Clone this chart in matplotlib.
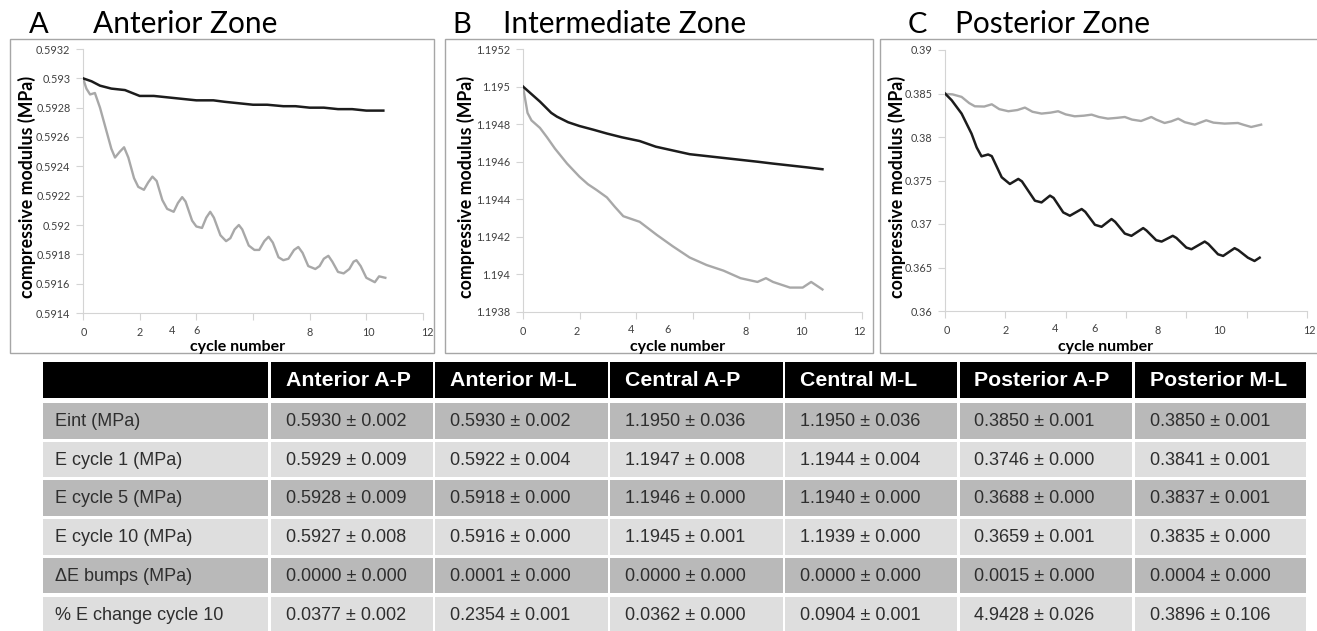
import matplotlib
matplotlib.use("Agg")
import matplotlib.pyplot as plt
from matplotlib.patches import Rectangle
from matplotlib.transforms import ScaledTranslation, blended_transform_factory

plt.rcParams["font.family"] = ["Lato", "DejaVu Sans"]

W, H = 1317, 631
INK = "#1c1c1c"; GRAYLINE = "#a8a8a8"; FRAME = "#a6a6a6"; SPINE = "#d4d4d4"
TICK = "#404040"; DARK_ROW = "#b9b9b9"; LIGHT_ROW = "#dedede"; CELL_INK = "#2e2e2e"

# ---- data ----
XTICKS = [0, 2, 4, 6, 8, 10, 12]

A_YTICKS = [0.5914, 0.5916, 0.5918, 0.5920, 0.5922, 0.5924, 0.5926, 0.5928, 0.5930, 0.5932]
A_black_x = [0, 0.3, 0.6, 1.0, 1.48, 2.0, 2.5, 3.0, 3.5, 4.0, 4.6, 5.0, 5.5, 6.0, 6.5,
             7.07, 7.5, 8.0, 8.5, 9.0, 9.5, 10.0, 10.6]
A_black_y = [0.59300, 0.59298, 0.59295, 0.59293, 0.59292, 0.59288, 0.59288, 0.59287,
             0.59286, 0.59285, 0.59285, 0.59284, 0.59283, 0.59282, 0.59282, 0.59281,
             0.59281, 0.59280, 0.59280, 0.59279, 0.59279, 0.59278, 0.59278]
A_gray_x = [0, 0.12, 0.25, 0.42, 0.6, 0.8, 1.0, 1.13, 1.3, 1.45, 1.6, 1.8, 1.95, 2.15,
            2.3, 2.45, 2.6, 2.8, 2.97, 3.2, 3.35, 3.5, 3.62, 3.85, 4.0, 4.2, 4.35, 4.49,
            4.62, 4.85, 5.05, 5.2, 5.35, 5.5, 5.62, 5.85, 6.05, 6.22, 6.4, 6.55, 6.7,
            6.9, 7.07, 7.25, 7.45, 7.6, 7.75, 7.95, 8.2, 8.35, 8.5, 8.66, 8.8, 9.0, 9.2,
            9.4, 9.55, 9.65, 9.8, 10.0, 10.3, 10.45, 10.67]
A_gray_y = [0.59300, 0.59293, 0.59289, 0.59290, 0.59280, 0.59266, 0.59252, 0.59246,
            0.59250, 0.59253, 0.59246, 0.59232, 0.59226, 0.59224, 0.59229, 0.59233,
            0.59230, 0.59217, 0.59211, 0.59209, 0.59215, 0.59219, 0.59216, 0.59203,
            0.59199, 0.59198, 0.59205, 0.59209, 0.59205, 0.59193, 0.59189, 0.59191,
            0.59197, 0.59200, 0.59197, 0.59186, 0.59183, 0.59183, 0.59189, 0.59192,
            0.59188, 0.59178, 0.59176, 0.59177, 0.59183, 0.59185, 0.59181, 0.59172,
            0.59170, 0.59172, 0.59177, 0.59179, 0.59175, 0.59168, 0.59167, 0.59170,
            0.59175, 0.59176, 0.59172, 0.59164, 0.59161, 0.59165, 0.59164]

B_YTICKS = [1.1938, 1.1940, 1.1942, 1.1944, 1.1946, 1.1948, 1.1950, 1.1952]
B_black_x = [0, 0.15, 0.3, 0.45, 0.6, 0.8, 1.0, 1.2, 1.6, 2.0, 2.5, 2.97, 3.5, 4.13,
             4.7, 5.3, 5.9, 6.5, 7.1, 7.7, 8.3, 8.85, 9.45, 10.05, 10.6]
B_black_y = [1.19500, 1.19498, 1.19496, 1.19494, 1.19492, 1.19489, 1.19486, 1.19484,
             1.19481, 1.19479, 1.19477, 1.19475, 1.19473, 1.19471, 1.19468, 1.19466,
             1.19464, 1.19463, 1.19462, 1.19461, 1.19460, 1.19459, 1.19458, 1.19457,
             1.19456]
B_gray_x = [0, 0.08, 0.16, 0.3, 0.6, 0.85, 1.13, 1.56, 2.0, 2.3, 2.6, 2.97, 3.25, 3.55,
            4.13, 4.74, 5.3, 5.9, 6.5, 7.1, 7.7, 8.3, 8.6, 8.85, 9.45, 9.9, 10.2, 10.6]
B_gray_y = [1.19500, 1.19493, 1.19486, 1.19482, 1.19478, 1.19473, 1.19467, 1.19459,
            1.19452, 1.19448, 1.19445, 1.19441, 1.19436, 1.19431, 1.19428, 1.19421,
            1.19415, 1.19409, 1.19405, 1.19402, 1.19398, 1.19396, 1.19398, 1.19396,
            1.19393, 1.19393, 1.19396, 1.19392]

C_YTICKS = [0.36, 0.365, 0.37, 0.375, 0.38, 0.385, 0.39]
C_black_x = [0, 0.22, 0.55, 0.88, 1.05, 1.21, 1.43, 1.55, 1.88, 2.15, 2.43, 2.55, 2.98,
             3.2, 3.48, 3.6, 3.92, 4.14, 4.53, 4.65, 4.97, 5.19, 5.52, 5.64, 5.96, 6.18,
             6.57, 6.68, 7.0, 7.18, 7.55, 7.67, 8.0, 8.17, 8.61, 8.73, 9.05, 9.22, 9.6,
             9.72, 10.04, 10.26, 10.43]
C_black_y = [0.38500, 0.38423, 0.38269, 0.38038, 0.37880, 0.37778, 0.37799, 0.37780,
             0.37537, 0.37460, 0.37518, 0.37490, 0.37268, 0.37248, 0.37326, 0.37300,
             0.37133, 0.37095, 0.37172, 0.37140, 0.36991, 0.36968, 0.37057, 0.37025,
             0.36890, 0.36864, 0.36953, 0.36925, 0.36814, 0.36798, 0.36864, 0.36840,
             0.36729, 0.36710, 0.36798, 0.36770, 0.36652, 0.36633, 0.36722, 0.36700,
             0.36613, 0.36575, 0.36613]
C_gray_x = [0, 0.25, 0.55, 0.8, 0.99, 1.3, 1.55, 1.8, 2.1, 2.4, 2.65, 2.9, 3.2, 3.5,
            3.75, 4.0, 4.3, 4.6, 4.86, 5.1, 5.4, 5.7, 5.96, 6.2, 6.5, 6.84, 7.0, 7.28,
            7.5, 7.73, 7.95, 8.28, 8.66, 8.9, 9.27, 9.71, 9.9, 10.15, 10.48]
C_gray_y = [0.38496, 0.38490, 0.38461, 0.38390, 0.38353, 0.38350, 0.38376, 0.38320,
            0.38296, 0.38310, 0.38338, 0.38290, 0.38269, 0.38280, 0.38296, 0.38260,
            0.38238, 0.38245, 0.38257, 0.38230, 0.38211, 0.38220, 0.38230, 0.38200,
            0.38184, 0.38230, 0.38200, 0.38161, 0.38180, 0.38211, 0.38170, 0.38142,
            0.38192, 0.38165, 0.38154, 0.38161, 0.38140, 0.38115, 0.38142]

# ---- table ----
COLUMNS = ["", "Anterior A-P", "Anterior M-L", "Central A-P", "Central M-L",
           "Posterior A-P", "Posterior M-L"]
ROWS = ["Eint (MPa)", "E cycle 1 (MPa)", "E cycle 5 (MPa)", "E cycle 10 (MPa)",
        "\u0394E bumps (MPa)", "% E change cycle 10"]
CELLS = [
    ["0.5930 ± 0.002", "0.5930 ± 0.002", "1.1950 ± 0.036", "1.1950 ± 0.036", "0.3850 ± 0.001", "0.3850 ± 0.001"],
    ["0.5929 ± 0.009", "0.5922 ± 0.004", "1.1947 ± 0.008", "1.1944 ± 0.004", "0.3746 ± 0.000", "0.3841 ± 0.001"],
    ["0.5928 ± 0.009", "0.5918 ± 0.000", "1.1946 ± 0.000", "1.1940 ± 0.000", "0.3688 ± 0.000", "0.3837 ± 0.001"],
    ["0.5927 ± 0.008", "0.5916 ± 0.000", "1.1945 ± 0.001", "1.1939 ± 0.000", "0.3659 ± 0.001", "0.3835 ± 0.000"],
    ["0.0000 ± 0.000", "0.0001 ± 0.000", "0.0000 ± 0.000", "0.0000 ± 0.000", "0.0015 ± 0.000", "0.0004 ± 0.000"],
    ["0.0377 ± 0.002", "0.2354 ± 0.001", "0.0362 ± 0.000", "0.0904 ± 0.001", "4.9428 ± 0.026", "0.3896 ± 0.106"],
]

fig = plt.figure(figsize=(W / 100, H / 100), dpi=100)
fig.patch.set_facecolor("white")
bg = fig.add_axes([0, 0, 1, 1], zorder=0)
bg.set_xlim(0, W); bg.set_ylim(H, 0); bg.axis("off")


def px_axes(l, t, r, b):
    return fig.add_axes([l / W, 1 - b / H, (r - l) / W, (b - t) / H], zorder=2)


def fmt(v):
    return f"{v:.4f}".rstrip("0").rstrip(".")


panels = [
    # letter, title, letter x, title x, frame (l,t,r,b), axes (l,t,r,b), ylabel x,
    # cycle-label x, per-label x offsets (px)
    ("A", "Anterior Zone", 29, 93, (10, 39, 434, 353), (83, 49, 423, 313), 27, 238,
     [1, 0, -24, -56, 0, 2, 4], A_YTICKS, (A_black_x, A_black_y), (A_gray_x, A_gray_y)),
    ("B", "Intermediate Zone", 452, 503, (445, 39, 873, 353), (523, 49, 862, 312), 466, 678,
     [0, -3, -5, -25, -3, -4, -3], B_YTICKS, (B_black_x, B_black_y), (B_gray_x, B_gray_y)),
    ("C", "Posterior Zone", 908, 955, (880, 39, 1330, 353), (945, 50, 1307, 311), 897, 1106,
     [2, 0, -11, -31, -29, -27, 2], C_YTICKS, (C_black_x, C_black_y), (C_gray_x, C_gray_y)),
]

for (letter, title, lx, tx, frame, box, ylx, cx, offs, yticks, blk, gry) in panels:
    fl, ft, fr, fb = frame
    bg.add_patch(Rectangle((fl, ft), fr - fl, fb - ft, fill=False, ec=FRAME, lw=1.0))
    bg.text(lx, 33, letter, fontsize=21, color="black", va="baseline", ha="left")
    bg.text(tx, 33, title, fontsize=21.5, color="black", va="baseline", ha="left")
    bg.text(ylx, 187, "compressive modulus (MPa)", rotation=90, fontsize=12.8,
            fontweight="bold", color="black", ha="center", va="center", zorder=5)
    bg.text(cx, 347, "cycle number", fontsize=11.5, fontweight="bold",
            color="black", ha="center", va="center")

    ax = px_axes(*box)
    ax.patch.set_alpha(0)
    ax.plot(gry[0], gry[1], color=GRAYLINE, lw=1.7, solid_joinstyle="round", zorder=3)
    ax.plot(blk[0], blk[1], color=INK, lw=1.8, solid_joinstyle="round", zorder=4)
    ax.set_xlim(XTICKS[0], XTICKS[-1])
    ax.set_ylim(yticks[0], yticks[-1])
    ax.set_yticks(yticks)
    ax.set_yticklabels([fmt(v) for v in yticks])
    ax.set_xticks(XTICKS)
    ax.set_xticklabels([])
    ax.tick_params(axis="both", length=5, width=0.8, color=SPINE, labelsize=7.8,
                   labelcolor=TICK, pad=4)
    for sp in ("top", "right"):
        ax.spines[sp].set_visible(False)
    for sp in ("left", "bottom"):
        ax.spines[sp].set_color(SPINE)
        ax.spines[sp].set_linewidth(0.8)
    tr = blended_transform_factory(ax.transData, ax.transAxes)
    for t, dx in zip(XTICKS, offs):
        dy = -18 if t in (4, 6) else -20
        ax.text(t, 0, str(t), fontsize=7.8, color=TICK, ha="center", va="center",
                transform=tr + ScaledTranslation(dx / 100, dy / 100, fig.dpi_scale_trans),
                clip_on=False)

# table
COL_EDGES = [42, 269.5, 434, 609, 784, 958.5, 1133.5, 1307]
TFONT = ["Liberation Sans", "DejaVu Sans"]
HEAD_T, HEAD_B = 362, 398
for j, name in enumerate(COLUMNS):
    l, r = COL_EDGES[j], COL_EDGES[j + 1]
    bg.add_patch(Rectangle((l + 1, HEAD_T), r - l - 2.5, HEAD_B - HEAD_T, fc="black", ec="none"))
    if name:
        bg.text(l + 16, (HEAD_T + HEAD_B) / 2 + 1, name, family=TFONT, fontsize=15.3,
                fontweight="bold", color="white", ha="left", va="center")

for i, label in enumerate(ROWS):
    top = 403 + i * 38.7
    fc = DARK_ROW if i % 2 == 0 else LIGHT_ROW
    texts = [label] + CELLS[i]
    for j, txt in enumerate(texts):
        l, r = COL_EDGES[j], COL_EDGES[j + 1]
        bg.add_patch(Rectangle((l + 1, top), r - l - 2.5, 35.5, fc=fc, ec="none"))
        x = 55 if j == 0 else l + 16
        bg.text(x, top + 18.5, txt, family=TFONT, fontsize=13, color=CELL_INK,
                ha="left", va="center")

fig.savefig("out.png", dpi=100, facecolor="white")
